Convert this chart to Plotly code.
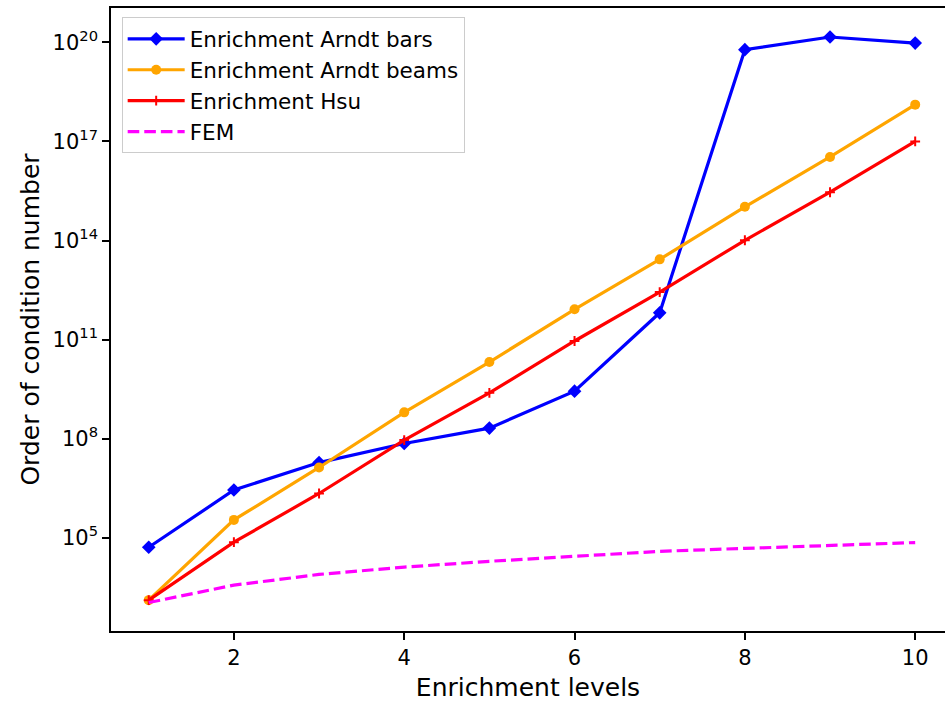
import plotly.graph_objects as go

levels = [1, 2, 3, 4, 5, 6, 7, 8, 9, 10]
arndt_bars = [5.2e4, 2.8e6, 1.9e7, 7.2e7, 2.1e8, 2.75e9, 6.5e11, 6.0e19, 1.45e20, 9.5e19]
arndt_beams = [1.3e3, 3.5e5, 1.35e7, 6.3e8, 2.1e10, 8.3e11, 2.7e13, 1.05e15, 3.4e16, 1.3e18]
hsu = [1.3e3, 7.4e4, 2.2e6, 9.1e7, 2.45e9, 9.1e10, 2.75e12, 1.02e14, 2.9e15, 1.0e17]
fem = [1.1e3, 3.7e3, 7.8e3, 1.3e4, 1.95e4, 2.8e4, 3.9e4, 4.8e4, 6.0e4, 7.2e4]

x_ticks = [2, 4, 6, 8, 10]
y_tick_exps = [5, 8, 11, 14, 17, 20]

FONT = "DejaVu Sans"

fig = go.Figure()
fig.add_trace(go.Scatter(x=levels, y=arndt_bars, mode="lines+markers", name="Enrichment Arndt bars",
                         line=dict(color="#0000ff", width=3.2),
                         marker=dict(symbol="diamond", size=10.5, color="#0000ff")))
fig.add_trace(go.Scatter(x=levels, y=arndt_beams, mode="lines+markers", name="Enrichment Arndt beams",
                         line=dict(color="#ffa500", width=3.2),
                         marker=dict(symbol="circle", size=10, color="#ffa500")))
fig.add_trace(go.Scatter(x=levels, y=hsu, mode="lines+markers", name="Enrichment Hsu",
                         line=dict(color="#ff0000", width=3.2),
                         marker=dict(symbol="cross-thin", size=7, color="#ff0000",
                                     line=dict(color="#ff0000", width=2))))
fig.add_trace(go.Scatter(x=levels, y=fem, mode="lines", name="FEM",
                         line=dict(color="#ff00ff", width=3.2, dash="11.6px,5px")))

fig.update_layout(
    width=945, height=702,
    margin=dict(l=111, r=0, t=8, b=71),
    paper_bgcolor="white", plot_bgcolor="white",
    font=dict(family=FONT, color="black", size=21),
    showlegend=True,
    legend=dict(x=0.0128, y=0.985, xanchor="left", yanchor="top",
                bgcolor="rgba(255,255,255,0.8)", bordercolor="#cccccc", borderwidth=1,
                font=dict(family=FONT, size=21.5), tracegroupgap=0, itemwidth=57),
)
fig.update_xaxes(
    range=[0.557, 10.35], tickvals=x_ticks, ticktext=[str(v) for v in x_ticks],
    showgrid=False, zeroline=False, showline=True, linecolor="black", linewidth=1.6,
    mirror=True, ticks="outside", ticklen=7, tickwidth=1.6, tickcolor="black",
    tickfont=dict(size=21, family=FONT), automargin=False,
    title=dict(text="Enrichment levels", font=dict(size=25, family=FONT)),
)
fig.update_yaxes(
    type="log", range=[2.18, 21.04],
    tickvals=[float(10.0 ** e) for e in y_tick_exps],
    ticktext=["10<sup>%d</sup>" % e for e in y_tick_exps],
    showgrid=False, zeroline=False, showline=True, linecolor="black", linewidth=1.6,
    mirror=False, ticks="outside", ticklen=7, tickwidth=1.6, tickcolor="black",
    tickfont=dict(size=21, family=FONT), automargin=True,
    title=dict(text="Order of condition number", font=dict(size=25, family=FONT), standoff=6),
)

fig.write_html("out.html", config={"displayModeBar": False},
               post_script="document.body.style.margin='0';document.body.style.padding='0';")
